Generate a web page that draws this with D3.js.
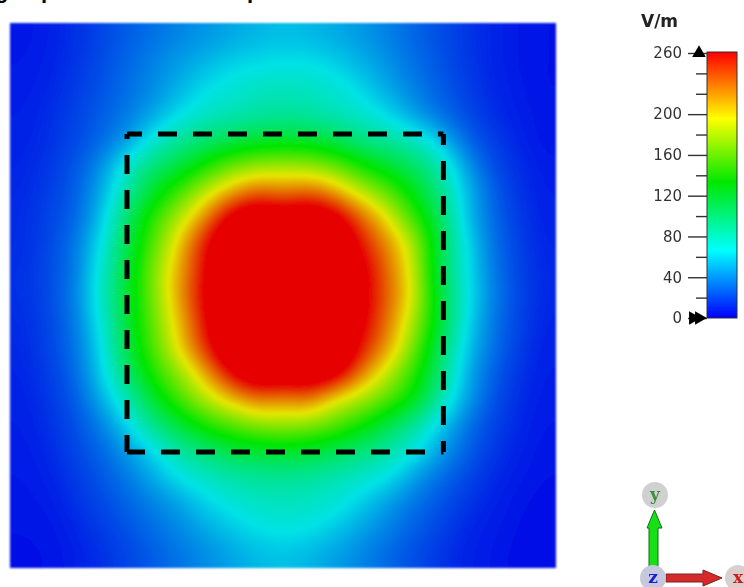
<!DOCTYPE html>
<html><head><meta charset="utf-8">
<style>html,body{margin:0;padding:0;background:#fff;overflow:hidden}svg{display:block}</style>
<script src="https://cdn.jsdelivr.net/npm/d3@7"></script>
</head><body>
<svg id="c" width="744" height="587"></svg>
<script>
// Field magnitude in V/m (21 x 21 samples, top row first). Display saturates at 260.
const fieldRows = [
[6,9,14,20,27,33,39,44,49,53,56,54,50,45,38,30,23,16,11,7,5],
[7,10,15,22,30,38,46,53,60,64,65,65,60,52,43,33,25,17,11,7,5],
[8,11,17,24,32,41,52,64,71,76,79,77,72,62,50,38,28,19,12,8,5],
[9,13,19,27,36,49,65,75,81,86,88,86,80,74,63,48,34,23,14,9,6],
[10,14,21,31,46,70,88,100,110,118,120,119,110,96,88,77,58,32,19,11,6],
[11,16,25,42,72,98,115,138,160,172,175,172,160,138,120,104,82,48,24,14,8],
[12,18,28,50,85,120,150,183,212,232,226,232,214,184,158,126,95,58,30,16,9],
[13,20,30,57,102,143,180,221,268,285,280,285,270,232,195,150,108,60,33,18,10],
[13,21,35,66,110,155,202,253,290,300,300,300,290,254,220,178,114,68,36,20,11],
[14,22,36,72,116,165,212,258,300,310,310,310,300,268,230,186,114,70,38,21,12],
[14,22,38,75,118,165,215,262,300,310,310,310,305,270,233,190,118,72,40,22,12],
[13,21,36,70,116,160,206,256,300,310,310,310,300,265,228,178,120,68,37,21,11],
[12,20,34,64,112,153,198,245,290,300,300,300,295,254,215,165,108,62,35,19,10],
[11,18,31,60,100,140,172,212,258,285,282,285,270,225,185,145,100,55,30,16,9],
[10,16,27,50,80,118,150,180,205,225,222,225,197,178,155,128,85,50,26,14,8],
[9,14,23,38,62,92,115,138,155,168,172,168,155,136,112,88,62,36,21,12,7],
[8,12,20,30,45,64,85,100,112,118,120,118,108,98,85,70,48,30,17,10,6],
[7,10,17,25,36,50,66,76,84,89,90,88,82,75,66,48,33,22,13,8,5],
[6,8,14,21,29,38,48,61,70,76,78,76,71,60,47,35,25,16,10,6,4],
[5,6,11,17,24,32,40,49,58,65,68,66,58,48,38,28,20,12,8,5,3],
[5,5,9,14,20,27,34,41,48,54,57,53,47,39,31,23,16,10,7,4,3]
];
const colorStops = [0,66,133,195,260];
const mapColors = ["#0000e6","#00e2e6","#00e600","#e6e600","#e60000"];
const barColors = ["#0000ff","#00ffff","#00e800","#ffff00","#ff0000"];
const majorTicks = [0,40,80,120,160,200,260];
const allTicks = [0,20,40,60,80,100,120,140,160,180,200,220,240,260];
const unitLabel = "V/m";
const dashedBoxX = [4.5,16.67];
const dashedBoxY = [4.28,16.53];
const axisLetters = ["x","y","z"];
const clippedTitleGlyphs = ["g","p","p"];

const svg = d3.select("#c");
const defs = svg.append("defs");
defs.append("filter").attr("id","soft").attr("x","-5%").attr("y","-5%").attr("width","110%").attr("height","110%")
  .append("feGaussianBlur").attr("stdDeviation",1.2);
defs.append("filter").attr("id","softer").attr("x","-10%").attr("y","-10%").attr("width","120%").attr("height","120%")
  .append("feGaussianBlur").attr("stdDeviation",0.45);
defs.append("clipPath").attr("id","mapClip").append("rect").attr("x",10).attr("y",23).attr("width",546).attr("height",545);

// clipped title descenders
svg.append("g").attr("font-family","Liberation Sans").attr("font-weight","bold").attr("font-size",22).attr("fill","#000")
  .selectAll("text").data(clippedTitleGlyphs).join("text")
  .attr("x",(d,i)=>[-5,41,247][i]).attr("y",-2).text(d=>d);

// heat map: the samples are resampled onto a finer raster so the filled contours stay smooth
const nx = fieldRows[0].length, ny = fieldRows.length, fine = 4, pad = 1;
const x = d3.scaleLinear().domain([0,nx]).range([10,556]);
const y = d3.scaleLinear().domain([0,ny]).range([23,568]);
const mapColor = d3.scaleLinear().domain(colorStops).range(mapColors).clamp(true);
const thresholds = d3.range(0,260,1);
const W = (nx+2*pad)*fine, H = (ny+2*pad)*fine;
const at = (i,j)=>fieldRows[Math.max(0,Math.min(ny-1,j))][Math.max(0,Math.min(nx-1,i))];
const cr = (a,b,c,d,t)=>b+0.5*t*(c-a+t*(2*a-5*b+4*c-d+t*(3*(b-c)+d-a)));
const raster = new Float64Array(W*H);
for(let k=0;k<H;k++){const v=(k+.5)/fine-pad-.5,j=Math.floor(v),tv=v-j;
  for(let m=0;m<W;m++){const u=(m+.5)/fine-pad-.5,i=Math.floor(u),tu=u-i;
    const r=[-1,0,1,2].map(q=>cr(at(i-1,j+q),at(i,j+q),at(i+1,j+q),at(i+2,j+q),tu));
    raster[k*W+m]=Math.max(0.5,cr(r[0],r[1],r[2],r[3],tv));}}
d3.blur2({data:raster,width:W,height:H},1);
const contours = d3.contours().size([W,H]).thresholds(thresholds)(raster);
const path = d3.geoPath(d3.geoTransform({point(px,py){this.stream.point(x(px/fine-pad),y(py/fine-pad));}}));
svg.append("g").attr("filter","url(#soft)").append("g").attr("clip-path","url(#mapClip)")
  .selectAll("path").data(contours).join("path")
  .attr("d",path).attr("fill",d=>mapColor(d.value+0.5)).attr("stroke","none");

// dashed box
const bx = dashedBoxX.map(x), by = dashedBoxY.map(y);
const sides = [
  {p:[[bx[0],by[0]],[bx[1],by[0]]],o:4},
  {p:[[bx[1],by[0]],[bx[1],by[1]]],o:8},
  {p:[[bx[0],by[1]],[bx[1],by[1]]],o:1},
  {p:[[bx[0],by[0]],[bx[0],by[1]]],o:14}
];
svg.append("g").attr("filter","url(#softer)").selectAll("path").data(sides).join("path")
  .attr("d",d=>d3.line()(d.p)).attr("fill","none").attr("stroke","#000").attr("stroke-width",5)
  .attr("stroke-dasharray","19 16").attr("stroke-dashoffset",d=>d.o).attr("stroke-linecap","butt");

// colour bar
const barY = d3.scaleLinear().domain([0,260]).range([318,53]);
const grad = defs.append("linearGradient").attr("id","bar").attr("x1",0).attr("x2",0).attr("y1",1).attr("y2",0);
grad.selectAll("stop").data(colorStops).join("stop")
  .attr("offset",d=>d/260).attr("stop-color",(d,i)=>barColors[i]);
const barG = svg.append("g").attr("filter","url(#softer)");
barG.append("rect").attr("x",707).attr("y",barY(260)-1).attr("width",30).attr("height",barY(0)-barY(260)+1)
  .attr("fill","url(#bar)").attr("stroke","#30303a").attr("stroke-width",1);
const axis = d3.axisLeft(barY).tickValues(allTicks).tickSize(19).tickPadding(6)
  .tickFormat(d=>majorTicks.includes(d)?d:"");
const ag = barG.append("g").attr("transform","translate(707,0)").call(axis);
ag.select(".domain").remove();
ag.selectAll(".tick line").attr("stroke","#333").attr("stroke-width",1.4)
  .attr("x2",d=>majorTicks.includes(d)?-19:-11).attr("x1",0);
ag.selectAll(".tick text").attr("font-family","DejaVu Sans").attr("font-size",15).attr("fill","#333");
barG.append("text").attr("x",641).attr("y",27).attr("font-family","DejaVu Sans").attr("font-weight","bold")
  .attr("font-size",17).attr("fill","#222").text(unitLabel);
// range markers
const tri = d3.symbol().type(d3.symbolTriangle).size(80);
barG.append("path").attr("d",tri()).attr("transform",`translate(699,${barY(260)})`).attr("fill","#000");
[693,699].forEach(px=>barG.append("path").attr("d",tri()).attr("transform",`translate(${px},${barY(0)}) rotate(90)`).attr("fill","#000"));

// orientation triad
const triad = svg.append("g").attr("filter","url(#softer)");
const spheres = [{l:"x",cx:738,cy:578,f:"#d8cfcf",t:"#d81818"},{l:"y",cx:655,cy:495,f:"#cfd0cf",t:"#3c8f3c"},{l:"z",cx:653,cy:578,f:"#c6c8dc",t:"#1a1ad0"}];
triad.append("path").attr("d","M649,567V528H647L654.5,510L662,528H658V567Z").attr("fill","#12e012").attr("stroke","#1a6a1a").attr("stroke-width",1);
triad.append("path").attr("d","M666,574H703V570L722,578L703,586V582H666Z").attr("fill","#d42a2a").attr("stroke","#7a2020").attr("stroke-width",1);
triad.selectAll("circle").data(spheres).join("circle").attr("cx",d=>d.cx).attr("cy",d=>d.cy).attr("r",13).attr("fill",d=>d.f);
triad.selectAll("text").data(axisLetters).join("text")
  .attr("x",d=>spheres.find(s=>s.l===d).cx).attr("y",d=>spheres.find(s=>s.l===d).cy+5)
  .attr("text-anchor","middle").attr("font-family","DejaVu Serif").attr("font-weight","bold").attr("font-size",17)
  .attr("fill",d=>spheres.find(s=>s.l===d).t).text(d=>d);
</script>
</body></html>
